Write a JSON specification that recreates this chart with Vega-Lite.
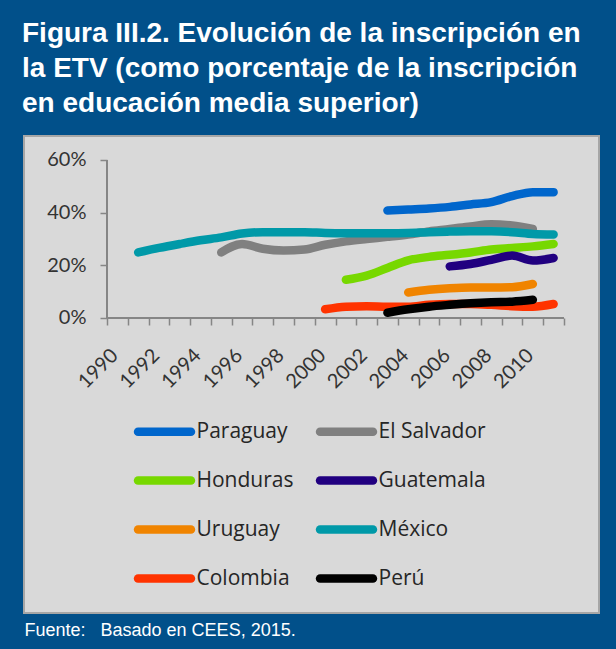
{
  "$schema": "https://vega.github.io/schema/vega-lite/v6.json",
  "width": 575,
  "height": 477,
  "autosize": {"type": "none"},
  "padding": {"left": 24, "top": 136, "right": 17, "bottom": 36},
  "background": "#01508A",
  "view": {"fill": "#D9D9D9", "stroke": "#A6A6A6", "strokeWidth": 2},
  "title": {
    "text": ["Figura III.2. Evolución de la inscripción en", "la ETV (como porcentaje de la inscripción", "en educación media superior)"],
    "anchor": "start",
    "frame": "group",
    "color": "white",
    "font": "Liberation Sans",
    "fontSize": 28,
    "fontWeight": "bold",
    "lineHeight": 35,
    "offset": 18,
    "dx": -2
  },
  "data": {
    "values": [
      {"country": "Paraguay", "year": 2003, "value": 40.8},
      {"country": "Paraguay", "year": 2004, "value": 41.2},
      {"country": "Paraguay", "year": 2005, "value": 41.6},
      {"country": "Paraguay", "year": 2006, "value": 42.2},
      {"country": "Paraguay", "year": 2007, "value": 43.1},
      {"country": "Paraguay", "year": 2008, "value": 44.0},
      {"country": "Paraguay", "year": 2009, "value": 46.3},
      {"country": "Paraguay", "year": 2010, "value": 47.8},
      {"country": "Paraguay", "year": 2011, "value": 47.8},
      {"country": "El Salvador", "year": 1995, "value": 24.9},
      {"country": "El Salvador", "year": 1996, "value": 28.1},
      {"country": "El Salvador", "year": 1997, "value": 26.3},
      {"country": "El Salvador", "year": 1998, "value": 25.6},
      {"country": "El Salvador", "year": 1999, "value": 26.0},
      {"country": "El Salvador", "year": 2000, "value": 27.8},
      {"country": "El Salvador", "year": 2001, "value": 29.1},
      {"country": "El Salvador", "year": 2002, "value": 30.0},
      {"country": "El Salvador", "year": 2003, "value": 30.8},
      {"country": "El Salvador", "year": 2004, "value": 31.7},
      {"country": "El Salvador", "year": 2005, "value": 32.9},
      {"country": "El Salvador", "year": 2006, "value": 33.8},
      {"country": "El Salvador", "year": 2007, "value": 34.8},
      {"country": "El Salvador", "year": 2008, "value": 35.6},
      {"country": "El Salvador", "year": 2009, "value": 35.1},
      {"country": "El Salvador", "year": 2010, "value": 33.8},
      {"country": "Honduras", "year": 2001, "value": 14.5},
      {"country": "Honduras", "year": 2002, "value": 16.1},
      {"country": "Honduras", "year": 2003, "value": 19.0},
      {"country": "Honduras", "year": 2004, "value": 21.9},
      {"country": "Honduras", "year": 2005, "value": 23.2},
      {"country": "Honduras", "year": 2006, "value": 24.0},
      {"country": "Honduras", "year": 2007, "value": 24.9},
      {"country": "Honduras", "year": 2008, "value": 26.0},
      {"country": "Honduras", "year": 2009, "value": 26.6},
      {"country": "Honduras", "year": 2010, "value": 27.2},
      {"country": "Honduras", "year": 2011, "value": 28.1},
      {"country": "Guatemala", "year": 2006, "value": 19.6},
      {"country": "Guatemala", "year": 2007, "value": 20.5},
      {"country": "Guatemala", "year": 2008, "value": 22.1},
      {"country": "Guatemala", "year": 2009, "value": 23.7},
      {"country": "Guatemala", "year": 2010, "value": 21.8},
      {"country": "Guatemala", "year": 2011, "value": 22.8},
      {"country": "Uruguay", "year": 2004, "value": 9.7},
      {"country": "Uruguay", "year": 2005, "value": 10.7},
      {"country": "Uruguay", "year": 2006, "value": 11.3},
      {"country": "Uruguay", "year": 2007, "value": 11.6},
      {"country": "Uruguay", "year": 2008, "value": 11.6},
      {"country": "Uruguay", "year": 2009, "value": 11.7},
      {"country": "Uruguay", "year": 2010, "value": 12.9},
      {"country": "México", "year": 1991, "value": 24.9},
      {"country": "México", "year": 1992, "value": 26.6},
      {"country": "México", "year": 1993, "value": 28.1},
      {"country": "México", "year": 1994, "value": 29.5},
      {"country": "México", "year": 1995, "value": 30.6},
      {"country": "México", "year": 1996, "value": 32.1},
      {"country": "México", "year": 1997, "value": 32.6},
      {"country": "México", "year": 1998, "value": 32.6},
      {"country": "México", "year": 1999, "value": 32.6},
      {"country": "México", "year": 2000, "value": 32.3},
      {"country": "México", "year": 2001, "value": 32.2},
      {"country": "México", "year": 2002, "value": 32.2},
      {"country": "México", "year": 2003, "value": 32.2},
      {"country": "México", "year": 2004, "value": 32.3},
      {"country": "México", "year": 2005, "value": 32.6},
      {"country": "México", "year": 2006, "value": 32.8},
      {"country": "México", "year": 2007, "value": 32.9},
      {"country": "México", "year": 2008, "value": 32.9},
      {"country": "México", "year": 2009, "value": 32.6},
      {"country": "México", "year": 2010, "value": 31.9},
      {"country": "México", "year": 2011, "value": 31.7},
      {"country": "Colombia", "year": 2000, "value": 3.3},
      {"country": "Colombia", "year": 2001, "value": 4.3},
      {"country": "Colombia", "year": 2002, "value": 4.5},
      {"country": "Colombia", "year": 2003, "value": 4.3},
      {"country": "Colombia", "year": 2004, "value": 4.3},
      {"country": "Colombia", "year": 2005, "value": 5.0},
      {"country": "Colombia", "year": 2006, "value": 5.3},
      {"country": "Colombia", "year": 2007, "value": 5.3},
      {"country": "Colombia", "year": 2008, "value": 5.0},
      {"country": "Colombia", "year": 2009, "value": 4.5},
      {"country": "Colombia", "year": 2010, "value": 4.3},
      {"country": "Colombia", "year": 2011, "value": 5.3},
      {"country": "Perú", "year": 2003, "value": 2.0},
      {"country": "Perú", "year": 2004, "value": 3.3},
      {"country": "Perú", "year": 2005, "value": 4.3},
      {"country": "Perú", "year": 2006, "value": 5.0},
      {"country": "Perú", "year": 2007, "value": 5.6},
      {"country": "Perú", "year": 2008, "value": 6.0},
      {"country": "Perú", "year": 2009, "value": 6.2},
      {"country": "Perú", "year": 2010, "value": 6.9}
    ]
  },
  "resolve": {"axis": {"x": "independent"}},
  "layer": [
    {
      "mark": {"type": "line", "strokeWidth": 8.5, "strokeCap": "round", "strokeJoin": "round", "interpolate": "monotone"},
      "encoding": {
        "x": {
          "field": "year", "type": "quantitative",
          "scale": {"domain": [1985.504, 2013.185], "nice": false, "zero": false},
          "axis": {
            "orient": "bottom", "offset": -295, "values": [1989.5, 1990.5, 1991.5, 1992.5, 1993.5, 1994.5, 1995.5, 1996.5, 1997.5, 1998.5, 1999.5, 2000.5, 2001.5, 2002.5, 2003.5, 2004.5, 2005.5, 2006.5, 2007.5, 2008.5, 2009.5, 2010.5, 2011.5],
            "labels": false, "domain": false, "grid": false, "ticks": true, "tickSize": 7, "tickColor": "#868686", "tickWidth": 1.5, "title": null
          }
        },
        "y": {
          "field": "value", "type": "quantitative",
          "scale": {"domain": [-112.03, 69.114], "nice": false, "zero": false},
          "axis": {
            "offset": -83, "values": [0, 20, 40, 60], "labelExpr": "datum.value + '%'",
            "domain": false, "grid": false, "tickSize": 7, "tickColor": "#868686", "tickWidth": 1.5,
            "labelFont": "Lato", "labelFontSize": 20, "labelColor": "#333333", "labelPadding": 14, "title": null
          }
        },
        "color": {
          "field": "country", "type": "nominal",
          "scale": {
            "domain": ["Paraguay", "El Salvador", "Honduras", "Guatemala", "Uruguay", "México", "Colombia", "Perú"],
            "range": ["#0066CC", "#808080", "#77D800", "#210080", "#F08400", "#0099A8", "#FF3300", "#000000"]
          },
          "legend": {
            "orient": "none", "legendX": 130, "legendY": 285, "columns": 2, "direction": "horizontal", "title": null,
            "symbolType": "M-5,0H5", "symbolSize": 112, "symbolStrokeWidth": 8.5,
            "labelOffset": 21.5, "columnPadding": 9, "rowPadding": 14, "padding": 0,
            "labelFont": "Open Sans", "labelFontSize": 21, "labelColor": "#262626",
            "labelLimit": 300,
            "encode": {"symbols": {"update": {"strokeCap": {"value": "round"}}}}
          }
        }
      }
    },
    {
      "mark": {"type": "rule", "color": "#868686", "strokeWidth": 1.5},
      "encoding": {
        "x": {
          "datum": 1989.5, "type": "quantitative",
          "scale": {"domain": [1985.504, 2013.185], "nice": false, "zero": false},
          "axis": {
            "orient": "bottom", "offset": -295, "values": [1990, 1992, 1994, 1996, 1998, 2000, 2002, 2004, 2006, 2008, 2010],
            "format": "d", "ticks": false, "domain": false, "grid": false,
            "labelAngle": -45, "labelAlign": "right", "labelBaseline": "middle", "labelPadding": 34, "labelOffset": -3,
            "labelFont": "Lato", "labelFontSize": 20, "labelColor": "#333333",
            "labelOverlap": false, "labelFlush": false, "title": null
          }
        },
        "x2": {"datum": 2011.5},
        "y": {
          "datum": 0, "type": "quantitative",
          "scale": {"domain": [-112.03, 69.114], "nice": false, "zero": false},
          "axis": {
            "offset": -83, "values": [0, 20, 40, 60], "labelExpr": "datum.value + '%'",
            "domain": false, "grid": false, "tickSize": 7, "tickColor": "#868686", "tickWidth": 1.5,
            "labelFont": "Lato", "labelFontSize": 20, "labelColor": "#333333", "labelPadding": 14, "title": null
          }
        }
      }
    },
    {
      "mark": {"type": "rule", "color": "#868686", "strokeWidth": 1.5},
      "encoding": {
        "x": {
          "datum": 1989.5, "type": "quantitative",
          "scale": {"domain": [1985.504, 2013.185], "nice": false, "zero": false},
          "axis": {
            "orient": "bottom", "labels": false, "ticks": false, "domain": false, "grid": false,
            "title": "Fuente:\u00a0\u00a0\u00a0Basado en CEES, 2015.", "titleAnchor": "start", "titleAlign": "left",
            "titleColor": "white", "titleFont": "Liberation Sans", "titleFontSize": 18, "titleFontWeight": "normal",
            "titlePadding": 8, "titleBaseline": "top"
          }
        },
        "y": {
          "datum": 0, "type": "quantitative",
          "scale": {"domain": [-112.03, 69.114], "nice": false, "zero": false},
          "axis": {
            "offset": -83, "values": [0, 20, 40, 60], "labelExpr": "datum.value + '%'",
            "domain": false, "grid": false, "tickSize": 7, "tickColor": "#868686", "tickWidth": 1.5,
            "labelFont": "Lato", "labelFontSize": 20, "labelColor": "#333333", "labelPadding": 14, "title": null
          }
        },
        "y2": {"datum": 60}
      }
    }
  ]
}
